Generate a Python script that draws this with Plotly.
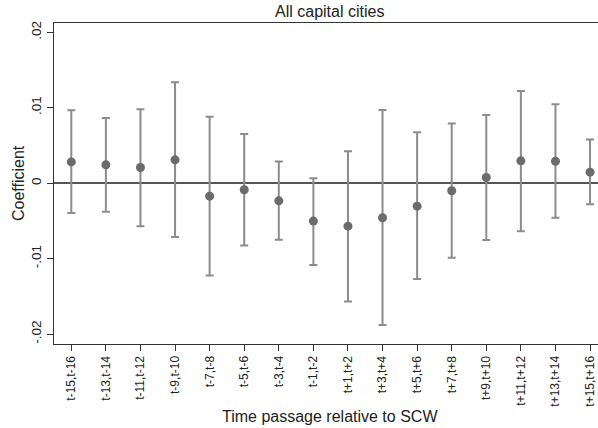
import plotly.graph_objects as go

categories = ["t-15,t-16", "t-13,t-14", "t-11,t-12", "t-9,t-10", "t-7,t-8", "t-5,t-6",
              "t-3,t-4", "t-1,t-2", "t+1,t+2", "t+3,t+4", "t+5,t+6", "t+7,t+8",
              "t+9,t+10", "t+11,t+12", "t+13,t+14", "t+15,t+16"]
coef = [0.00282, 0.00243, 0.00208, 0.00309, -0.00172, -0.00088, -0.00234, -0.00503,
        -0.00570, -0.00459, -0.00305, -0.00101, 0.00075, 0.00296, 0.00291, 0.00146]
upper = [0.00967, 0.00865, 0.00980, 0.01338, 0.00879, 0.00653, 0.00287, 0.00066,
         0.00424, 0.00971, 0.00675, 0.00790, 0.00905, 0.01223, 0.01046, 0.00579]
lower = [-0.00397, -0.00380, -0.00570, -0.00715, -0.01223, -0.00826, -0.00750, -0.01086,
         -0.01567, -0.01880, -0.01272, -0.00989, -0.00755, -0.00636, -0.00460, -0.00278]
y_tickvals = [0.02, 0.01, 0, -0.01, -0.02]
y_ticktext = [".02", ".01", "0", "-.01", "-.02"]

err_plus = [u - c for u, c in zip(upper, coef)]
err_minus = [c - l for c, l in zip(coef, lower)]

font = "Liberation Sans, Arial, sans-serif"

# the page body margin is removed (post_script), so page pixels == figure pixels
W, H = 598, 428
PL, PT, PB, PR = 54, 23, 344, 598  # plot area in page pixels
L, T, B, R = PL, PT, H - PB, W - PR
pw, ph = W - L - R, H - T - B


def px_x(xp):
    return (xp - L) / pw


def px_y(yp):
    return (H - B - yp) / ph


fig = go.Figure()
fig.add_trace(go.Scatter(
    x=list(range(len(categories))), y=coef, mode="markers",
    marker=dict(color="#6b6b6b", size=9),
    error_y=dict(type="data", symmetric=False, array=err_plus, arrayminus=err_minus,
                 color="#8c8c8c", thickness=2, width=4),
    showlegend=False,
))

fig.update_layout(
    width=W, height=H,
    margin=dict(l=L, r=R, t=T, b=B, autoexpand=False),
    paper_bgcolor="white", plot_bgcolor="white",
    font=dict(family=font, color="#222"),
    showlegend=False,
    xaxis=dict(
        range=[-0.5, 15.23], automargin=False,
        tickmode="array", tickvals=list(range(len(categories))), ticktext=categories,
        tickangle=-90, ticks="outside", ticklen=6, tickcolor="#333", tickwidth=1.3,
        tickfont=dict(size=12, color="#222"),
        showline=True, linecolor="#333", linewidth=1.3, mirror=True,
        showgrid=False, zeroline=False,
    ),
    yaxis=dict(
        range=[-0.02132, 0.02123], automargin=False,
        tickmode="array", tickvals=y_tickvals, ticktext=y_ticktext,
        tickangle=-90, ticks="outside", ticklen=6, tickcolor="#333", tickwidth=1.3,
        tickfont=dict(size=13.5, color="#222"),
        showline=True, linecolor="#333", linewidth=1.3,
        showgrid=False, zeroline=True, zerolinecolor="#555", zerolinewidth=1.5,
    ),
    annotations=[
        dict(text="All capital cities", xref="paper", yref="paper",
             x=px_x(329), y=px_y(11.5),
             xanchor="center", yanchor="middle", showarrow=False,
             font=dict(size=16, color="#222")),
        dict(text="Time passage relative to SCW", xref="paper", yref="paper",
             x=px_x(329.5), y=px_y(416),
             xanchor="center", yanchor="middle", showarrow=False,
             font=dict(size=16, color="#222")),
        dict(text="Coefficient", xref="paper", yref="paper",
             x=px_x(18), y=px_y(183), textangle=-90,
             xanchor="center", yanchor="middle", showarrow=False,
             font=dict(size=16, color="#222")),
    ],
)

fig.write_html("out.html", config={"displayModeBar": False},
               post_script="document.body.style.margin='0';")
